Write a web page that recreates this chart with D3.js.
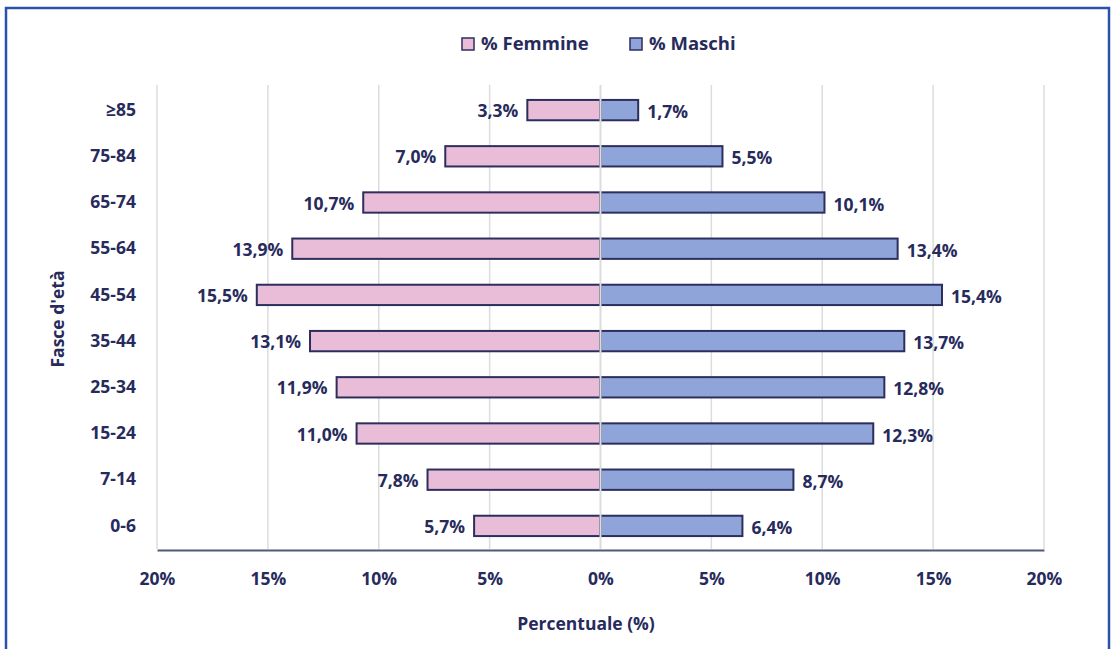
<!DOCTYPE html>
<html>
<head>
<meta charset="utf-8">
<script src="https://cdn.jsdelivr.net/npm/d3@7"></script>
<style>
  body { margin: 0; background: #fff; }
  svg text { font-family: "Open Sans", sans-serif; font-weight: bold; fill: #272b5c; }
</style>
</head>
<body>
<svg id="chart" width="1114" height="649"></svg>
<script>
// data
var ages = ["≥85", "75-84", "65-74", "55-64", "45-54", "35-44", "25-34", "15-24", "7-14", "0-6"];
var femmine = [3.3, 7.0, 10.7, 13.9, 15.5, 13.1, 11.9, 11.0, 7.8, 5.7];
var maschi = [1.7, 5.5, 10.1, 13.4, 15.4, 13.7, 12.8, 12.3, 8.7, 6.4];
var ticks = [-20, -15, -10, -5, 0, 5, 10, 15, 20];

var svg = d3.select("#chart");
var navy = "#272b5c";
var pink = "#e9bcd8";
var blue = "#8fa5d9";
var fs = "17.5px";
var fmt = function(v) { return v.toFixed(1).replace(".", ",") + "%"; };

// frame
svg.append("path")
  .attr("d", "M6,649 V8 H1109 V649")
  .attr("fill", "none")
  .attr("stroke", "#2a52ad")
  .attr("stroke-width", 2.5);

var x = d3.scaleLinear().domain([-20, 20]).range([157, 1044]);
var y = d3.scaleBand().domain(ages).range([87, 549]).paddingInner(0.56).paddingOuter(0.28);

// grid
svg.selectAll(".grid").data(ticks.filter(function(t) { return t != 0; })).enter().append("line")
  .attr("x1", function(d) { return x(d); })
  .attr("x2", function(d) { return x(d); })
  .attr("y1", 85).attr("y2", 549)
  .attr("stroke", "#dcdcdc").attr("stroke-width", 1.5);

// bars
svg.selectAll(".f").data(femmine).enter().append("rect")
  .attr("x", function(d) { return x(-d); })
  .attr("y", function(d, i) { return y(ages[i]); })
  .attr("width", function(d) { return x(0) - x(-d); })
  .attr("height", y.bandwidth())
  .attr("fill", pink).attr("stroke", "#2c2f5e").attr("stroke-width", 2);

svg.selectAll(".m").data(maschi).enter().append("rect")
  .attr("x", x(0))
  .attr("y", function(d, i) { return y(ages[i]); })
  .attr("width", function(d) { return x(d) - x(0); })
  .attr("height", y.bandwidth())
  .attr("fill", blue).attr("stroke", "#2c2f5e").attr("stroke-width", 2);

// zero line over bars
svg.append("line")
  .attr("x1", x(0)).attr("x2", x(0))
  .attr("y1", 85).attr("y2", 549)
  .attr("stroke", "#dcdcdc").attr("stroke-width", 2);

// value labels
svg.selectAll(".fl").data(femmine).enter().append("text")
  .attr("x", function(d) { return x(-d) - 9; })
  .attr("y", function(d, i) { return y(ages[i]) + y.bandwidth() / 2 + 1; })
  .attr("dy", "0.35em")
  .attr("text-anchor", "end")
  .style("font-size", fs)
  .text(fmt);

svg.selectAll(".ml").data(maschi).enter().append("text")
  .attr("x", function(d) { return x(d) + 9; })
  .attr("y", function(d, i) { return y(ages[i]) + y.bandwidth() / 2 + 2; })
  .attr("dy", "0.35em")
  .attr("text-anchor", "start")
  .style("font-size", fs)
  .text(fmt);

// x axis
var xAxis = d3.axisBottom(x).tickValues(ticks).tickSize(0).tickPadding(23)
  .tickFormat(function(d) { return Math.abs(d) + "%"; });
var gx = svg.append("g").attr("transform", "translate(0,550)").call(xAxis);
gx.select(".domain").attr("stroke", "#4d5a7c").attr("stroke-width", 2);
gx.selectAll("text").style("font-size", fs).attr("fill", navy)
  .style("font-family", "'Open Sans', sans-serif");

// y axis
var yAxis = d3.axisLeft(y).tickSize(0).tickPadding(21);
var gy = svg.append("g").attr("transform", "translate(157,0)").call(yAxis);
gy.select(".domain").remove();
gy.selectAll("text").style("font-size", fs).attr("fill", navy)
  .style("font-family", "'Open Sans', sans-serif");

// axis titles
svg.append("text").attr("x", 586).attr("y", 630).attr("text-anchor", "middle")
  .style("font-size", fs).text("Percentuale (%)");
svg.append("text").attr("transform", "translate(64,319) rotate(-90)")
  .attr("text-anchor", "middle").style("font-size", fs).text("Fasce d'età");

// legend
var legend = [{ name: "% Femmine", color: pink, x: 462 }, { name: "% Maschi", color: blue, x: 630 }];
var lg = svg.selectAll(".lg").data(legend).enter().append("g")
  .attr("transform", function(d) { return "translate(" + d.x + ",44)"; });
lg.append("rect").attr("x", 0).attr("y", -6).attr("width", 12).attr("height", 12)
  .attr("fill", function(d) { return d.color; }).attr("stroke", "#2c2f5e").attr("stroke-width", 1.5);
lg.append("text").attr("x", 19).attr("y", 0).attr("dy", "0.35em")
  .style("font-size", "18.5px").text(function(d) { return d.name; });
</script>
</body>
</html>
